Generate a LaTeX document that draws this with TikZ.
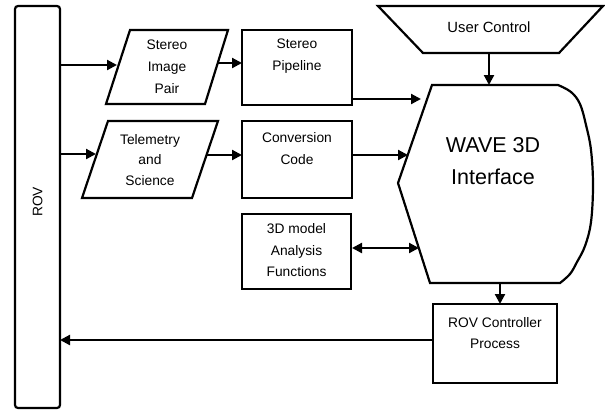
\documentclass[tikz,border=0pt]{standalone}
\usepackage{fontspec}
\setmainfont{Liberation Sans}
\usetikzlibrary{arrows.meta}
\begin{document}
\begin{tikzpicture}[x=1pt,y=-1pt,line width=2.2pt,
  >={Triangle[length=10pt,width=10pt]},
  box/.style={draw,inner sep=0pt,rectangle},
  lbl/.style={align=center,font=\fontsize{13.8}{21}\selectfont,inner sep=0pt},
  conn/.style={->,line width=2.2pt}]
\useasboundingbox (0,0) rectangle (605,410);

% ROV bar
\node[box,rounded corners=3pt,minimum width=45pt,minimum height=402pt] (rov) at (37.5,207) {};
\node[lbl,rotate=90] (rovt) at (37.5,202) {ROV};

% parallelograms
\draw[line join=miter] (130,30) -- (228,30) -- (205,104) -- (106,104) -- cycle;
\node[lbl,font=\fontsize{13.8}{22}\selectfont] (sip) at (167,67) {Stereo\\Image\\Pair};
\draw[line join=miter] (108,121) -- (218,121) -- (192,198) -- (82,198) -- cycle;
\node[lbl,font=\fontsize{13.8}{20.5}\selectfont] (tel) at (150,160) {Telemetry\\and\\Science};

% rectangles
\node[box,minimum width=110pt,minimum height=75pt] (sp) at (297,67.5) {};
\node[lbl,font=\fontsize{13.8}{22}\selectfont] (spt) at (297,56) {Stereo\\Pipeline};
\node[box,minimum width=110pt,minimum height=77pt] (cc) at (297,159.5) {};
\node[lbl,font=\fontsize{13.8}{22}\selectfont] (cct) at (297,149) {Conversion\\Code};
\node[box,minimum width=109pt,minimum height=75pt] (am) at (296.5,251.5) {};
\node[lbl,font=\fontsize{13.8}{21.5}\selectfont] (amt) at (296.5,250.5) {3D model\\Analysis\\Functions};
\node[box,minimum width=124pt,minimum height=79pt] (rc) at (495,343.5) {};
\node[lbl,font=\fontsize{13.8}{21}\selectfont] (rct) at (495,333.5) {ROV Controller\\Process};

% user control trapezoid
\draw[line join=miter] (378,6) -- (603,6) -- (559,53) -- (423,53) -- cycle;
\node[lbl,font=\fontsize{14.8}{21}\selectfont] (uc) at (489,27) {User Control};

% WAVE display shape
\draw[line join=miter] (398,183) -- (432,85) -- (558,85)
  -- plot[smooth,tension=0.6] coordinates {(558,85) (571,92) (580,104) (586,125) (591,150) (593,185) (591,222) (585,246) (577,262) (570,274) (560,283)}
  -- (430,283) -- cycle;
\node[lbl,font=\fontsize{21.5}{32}\selectfont] (wave) at (493,161) {WAVE 3D\\Interface};

% coordinates for connectors
\coordinate (rov1) at (60,65);
\coordinate (rov2) at (60,154);
\coordinate (rov3) at (60,340);
\coordinate (sipL) at (117,65);
\coordinate (sipR) at (218,63);
\coordinate (spL) at (242,63);
\coordinate (telL) at (96,154);
\coordinate (telR) at (206,155);
\coordinate (ccL) at (242,155);
\coordinate (spR) at (353,99);
\coordinate (wv1) at (421,99);
\coordinate (ccR) at (353,155);
\coordinate (wv2) at (408,155);
\coordinate (amR) at (352,248);
\coordinate (wv3) at (419,248);
\coordinate (ucB) at (489,53);
\coordinate (wvT) at (489,85);
\coordinate (wvB) at (500,283);
\coordinate (rcT) at (500,304);
\coordinate (rcL) at (433,340);

\draw[conn] (rov1) -- (sipL);
\draw[conn] (rov2) -- (telL);
\draw[conn] (sipR) -- (spL);
\draw[conn] (telR) -- (ccL);
\draw[conn] (spR) -- (wv1);
\draw[conn] (ccR) -- (wv2);
\draw[conn,<->] (amR) -- (wv3);
\draw[conn] (ucB) -- (wvT);
\draw[conn] (wvB) -- (rcT);
\draw[conn] (rcL) -- (rov3);
\end{tikzpicture}
\end{document}
